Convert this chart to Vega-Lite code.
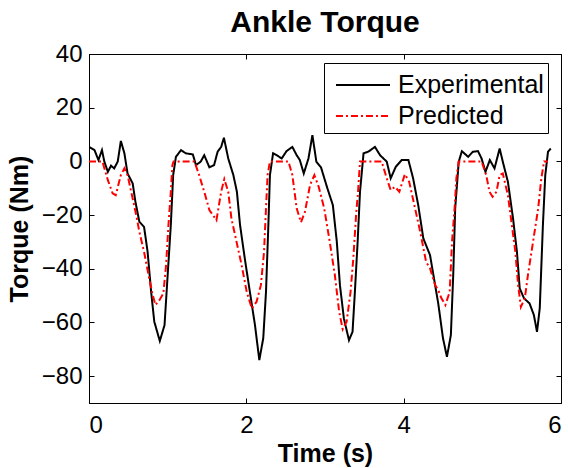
{
  "$schema": "https://vega.github.io/schema/vega-lite/v6.json",
  "width": 472,
  "height": 349,
  "autosize": {"type": "none"},
  "padding": {"left": 89, "top": 54, "right": 7, "bottom": 65},
  "background": "white",
  "title": {"text": "Ankle Torque", "fontSize": 30, "fontWeight": "bold", "font": "Liberation Sans", "color": "black", "baseline": "alphabetic", "offset": 18, "dy": 38},
  "config": {
    "font": "Liberation Sans",
    "view": {"stroke": "black", "strokeWidth": 1},
    "axis": {"grid": false, "domainColor": "black", "tickColor": "black", "labelColor": "black", "titleColor": "black", "labelFontSize": 24, "titleFontSize": 25, "titleFontWeight": "bold", "tickSize": -5, "labelPadding": 15}
  },
  "data": {"values": [
    {"s":"Experimental","t":0.00,"v":5.4},{"s":"Experimental","t":0.07,"v":4.2},{"s":"Experimental","t":0.12,"v":0.5},{"s":"Experimental","t":0.165,"v":4.2},{"s":"Experimental","t":0.195,"v":-0.1},{"s":"Experimental","t":0.24,"v":-3.9},{"s":"Experimental","t":0.28,"v":-1.6},{"s":"Experimental","t":0.32,"v":-2.6},{"s":"Experimental","t":0.365,"v":-0.1},{"s":"Experimental","t":0.405,"v":7.6},{"s":"Experimental","t":0.45,"v":3.0},{"s":"Experimental","t":0.49,"v":-4.5},{"s":"Experimental","t":0.555,"v":-8.2},{"s":"Experimental","t":0.59,"v":-15},{"s":"Experimental","t":0.64,"v":-22.5},{"s":"Experimental","t":0.70,"v":-24.4},{"s":"Experimental","t":0.745,"v":-33.7},{"s":"Experimental","t":0.79,"v":-48.6},{"s":"Experimental","t":0.83,"v":-59.7},{"s":"Experimental","t":0.90,"v":-66.9},{"s":"Experimental","t":0.96,"v":-61},{"s":"Experimental","t":1.00,"v":-42.3},{"s":"Experimental","t":1.04,"v":-23.7},{"s":"Experimental","t":1.07,"v":-5.1},{"s":"Experimental","t":1.105,"v":1.7},{"s":"Experimental","t":1.17,"v":4.2},{"s":"Experimental","t":1.23,"v":3.0},{"s":"Experimental","t":1.32,"v":2.6},{"s":"Experimental","t":1.36,"v":-1.4},{"s":"Experimental","t":1.42,"v":-0.1},{"s":"Experimental","t":1.465,"v":2.3},{"s":"Experimental","t":1.53,"v":-2.2},{"s":"Experimental","t":1.59,"v":-1.4},{"s":"Experimental","t":1.635,"v":3.6},{"s":"Experimental","t":1.68,"v":5.4},{"s":"Experimental","t":1.715,"v":8.8},{"s":"Experimental","t":1.77,"v":1.1},{"s":"Experimental","t":1.835,"v":-5.1},{"s":"Experimental","t":1.88,"v":-11.3},{"s":"Experimental","t":1.92,"v":-23.7},{"s":"Experimental","t":1.98,"v":-36.1},{"s":"Experimental","t":2.045,"v":-48.6},{"s":"Experimental","t":2.11,"v":-61},{"s":"Experimental","t":2.165,"v":-74},{"s":"Experimental","t":2.215,"v":-65.9},{"s":"Experimental","t":2.25,"v":-48.6},{"s":"Experimental","t":2.28,"v":-23.7},{"s":"Experimental","t":2.30,"v":-5.1},{"s":"Experimental","t":2.34,"v":3.0},{"s":"Experimental","t":2.385,"v":2.3},{"s":"Experimental","t":2.45,"v":1.1},{"s":"Experimental","t":2.51,"v":3.8},{"s":"Experimental","t":2.585,"v":5.4},{"s":"Experimental","t":2.64,"v":2.3},{"s":"Experimental","t":2.68,"v":0.5},{"s":"Experimental","t":2.73,"v":-4.5},{"s":"Experimental","t":2.79,"v":1.1},{"s":"Experimental","t":2.84,"v":9.8},{"s":"Experimental","t":2.89,"v":-0.1},{"s":"Experimental","t":2.95,"v":-2.3},{"s":"Experimental","t":3.03,"v":-10},{"s":"Experimental","t":3.10,"v":-16.3},{"s":"Experimental","t":3.15,"v":-29.9},{"s":"Experimental","t":3.19,"v":-46.1},{"s":"Experimental","t":3.24,"v":-58.5},{"s":"Experimental","t":3.305,"v":-66.6},{"s":"Experimental","t":3.35,"v":-63.5},{"s":"Experimental","t":3.38,"v":-48.6},{"s":"Experimental","t":3.415,"v":-29.9},{"s":"Experimental","t":3.445,"v":-11.3},{"s":"Experimental","t":3.49,"v":3.0},{"s":"Experimental","t":3.55,"v":3.6},{"s":"Experimental","t":3.635,"v":5.4},{"s":"Experimental","t":3.70,"v":2.3},{"s":"Experimental","t":3.785,"v":-0.1},{"s":"Experimental","t":3.835,"v":-6.3},{"s":"Experimental","t":3.90,"v":-2},{"s":"Experimental","t":3.975,"v":0.5},{"s":"Experimental","t":4.06,"v":0.5},{"s":"Experimental","t":4.12,"v":-6.3},{"s":"Experimental","t":4.185,"v":-16.3},{"s":"Experimental","t":4.25,"v":-28.7},{"s":"Experimental","t":4.335,"v":-34.9},{"s":"Experimental","t":4.40,"v":-46.1},{"s":"Experimental","t":4.44,"v":-53},{"s":"Experimental","t":4.50,"v":-65.9},{"s":"Experimental","t":4.55,"v":-72.8},{"s":"Experimental","t":4.60,"v":-64.7},{"s":"Experimental","t":4.63,"v":-42.3},{"s":"Experimental","t":4.655,"v":-17.5},{"s":"Experimental","t":4.70,"v":-0.1},{"s":"Experimental","t":4.74,"v":3.8},{"s":"Experimental","t":4.82,"v":1.7},{"s":"Experimental","t":4.88,"v":3.6},{"s":"Experimental","t":4.945,"v":3.8},{"s":"Experimental","t":4.99,"v":1.1},{"s":"Experimental","t":5.04,"v":-3.9},{"s":"Experimental","t":5.095,"v":0.5},{"s":"Experimental","t":5.155,"v":-2.6},{"s":"Experimental","t":5.22,"v":4.8},{"s":"Experimental","t":5.26,"v":-0.1},{"s":"Experimental","t":5.325,"v":-7.6},{"s":"Experimental","t":5.39,"v":-21.2},{"s":"Experimental","t":5.44,"v":-33.7},{"s":"Experimental","t":5.475,"v":-47.3},{"s":"Experimental","t":5.53,"v":-51},{"s":"Experimental","t":5.60,"v":-52.9},{"s":"Experimental","t":5.655,"v":-57.2},{"s":"Experimental","t":5.695,"v":-63.5},{"s":"Experimental","t":5.73,"v":-54.7},{"s":"Experimental","t":5.77,"v":-23.7},{"s":"Experimental","t":5.80,"v":-5.1},{"s":"Experimental","t":5.835,"v":3.6},{"s":"Experimental","t":5.87,"v":4.8},
    {"s":"Predicted","t":0.00,"v":0},{"s":"Predicted","t":0.17,"v":0},{"s":"Predicted","t":0.24,"v":-7},{"s":"Predicted","t":0.30,"v":-11.9},{"s":"Predicted","t":0.34,"v":-12.6},{"s":"Predicted","t":0.405,"v":-5.1},{"s":"Predicted","t":0.45,"v":-2.6},{"s":"Predicted","t":0.49,"v":-5.1},{"s":"Predicted","t":0.555,"v":-13.8},{"s":"Predicted","t":0.60,"v":-20},{"s":"Predicted","t":0.64,"v":-26.2},{"s":"Predicted","t":0.70,"v":-33.7},{"s":"Predicted","t":0.765,"v":-43.6},{"s":"Predicted","t":0.81,"v":-49.8},{"s":"Predicted","t":0.845,"v":-53.5},{"s":"Predicted","t":0.895,"v":-51.7},{"s":"Predicted","t":0.945,"v":-49.2},{"s":"Predicted","t":0.98,"v":-38.6},{"s":"Predicted","t":1.01,"v":-23.7},{"s":"Predicted","t":1.04,"v":-11.3},{"s":"Predicted","t":1.06,"v":-1.4},{"s":"Predicted","t":1.075,"v":0},{"s":"Predicted","t":1.34,"v":0},{"s":"Predicted","t":1.40,"v":-5.1},{"s":"Predicted","t":1.465,"v":-11.3},{"s":"Predicted","t":1.53,"v":-18.1},{"s":"Predicted","t":1.62,"v":-21.9},{"s":"Predicted","t":1.68,"v":-11.3},{"s":"Predicted","t":1.72,"v":-6.6},{"s":"Predicted","t":1.77,"v":-11.3},{"s":"Predicted","t":1.81,"v":-21.2},{"s":"Predicted","t":1.875,"v":-29.9},{"s":"Predicted","t":1.94,"v":-38.6},{"s":"Predicted","t":2.005,"v":-48.6},{"s":"Predicted","t":2.07,"v":-54.8},{"s":"Predicted","t":2.13,"v":-52.3},{"s":"Predicted","t":2.185,"v":-46.1},{"s":"Predicted","t":2.225,"v":-33.7},{"s":"Predicted","t":2.25,"v":-17.5},{"s":"Predicted","t":2.27,"v":-5.1},{"s":"Predicted","t":2.30,"v":0},{"s":"Predicted","t":2.535,"v":0},{"s":"Predicted","t":2.585,"v":-5.1},{"s":"Predicted","t":2.64,"v":-17.5},{"s":"Predicted","t":2.695,"v":-22.7},{"s":"Predicted","t":2.745,"v":-18.8},{"s":"Predicted","t":2.81,"v":-8.8},{"s":"Predicted","t":2.865,"v":-5.1},{"s":"Predicted","t":2.92,"v":-9.5},{"s":"Predicted","t":2.99,"v":-17.5},{"s":"Predicted","t":3.06,"v":-29.9},{"s":"Predicted","t":3.125,"v":-42.3},{"s":"Predicted","t":3.18,"v":-56},{"s":"Predicted","t":3.225,"v":-62.5},{"s":"Predicted","t":3.275,"v":-59.7},{"s":"Predicted","t":3.325,"v":-48.6},{"s":"Predicted","t":3.36,"v":-36.1},{"s":"Predicted","t":3.395,"v":-20},{"s":"Predicted","t":3.42,"v":-11.3},{"s":"Predicted","t":3.445,"v":0},{"s":"Predicted","t":3.72,"v":0},{"s":"Predicted","t":3.785,"v":-6.3},{"s":"Predicted","t":3.835,"v":-10.7},{"s":"Predicted","t":3.89,"v":-9.5},{"s":"Predicted","t":3.945,"v":-11.3},{"s":"Predicted","t":4.015,"v":-4.8},{"s":"Predicted","t":4.07,"v":-7.6},{"s":"Predicted","t":4.145,"v":-17.5},{"s":"Predicted","t":4.21,"v":-26.2},{"s":"Predicted","t":4.285,"v":-37.4},{"s":"Predicted","t":4.335,"v":-39.8},{"s":"Predicted","t":4.40,"v":-46.1},{"s":"Predicted","t":4.44,"v":-48},{"s":"Predicted","t":4.48,"v":-51},{"s":"Predicted","t":4.53,"v":-53.5},{"s":"Predicted","t":4.585,"v":-48.6},{"s":"Predicted","t":4.615,"v":-29.9},{"s":"Predicted","t":4.65,"v":-16.3},{"s":"Predicted","t":4.67,"v":-6.3},{"s":"Predicted","t":4.70,"v":0},{"s":"Predicted","t":4.99,"v":0},{"s":"Predicted","t":5.05,"v":-5.1},{"s":"Predicted","t":5.09,"v":-11.3},{"s":"Predicted","t":5.13,"v":-13.2},{"s":"Predicted","t":5.18,"v":-11.3},{"s":"Predicted","t":5.22,"v":-5.1},{"s":"Predicted","t":5.26,"v":-4.5},{"s":"Predicted","t":5.325,"v":-12.6},{"s":"Predicted","t":5.375,"v":-23.7},{"s":"Predicted","t":5.42,"v":-33.7},{"s":"Predicted","t":5.455,"v":-46.1},{"s":"Predicted","t":5.49,"v":-54.2},{"s":"Predicted","t":5.54,"v":-51},{"s":"Predicted","t":5.58,"v":-42.3},{"s":"Predicted","t":5.645,"v":-29.9},{"s":"Predicted","t":5.71,"v":-17.5},{"s":"Predicted","t":5.75,"v":-6.3},{"s":"Predicted","t":5.785,"v":0},{"s":"Predicted","t":5.835,"v":0}
  ]},
  "layer": [
    {
      "mark": {"type": "line", "strokeWidth": 2, "clip": true},
      "encoding": {
        "x": {"field": "t", "type": "quantitative", "scale": {"domain": [0, 6], "nice": false, "zero": false}, "axis": {"values": [0, 2, 4, 6], "title": "Time (s)", "format": "d", "titlePadding": 4}},
        "y": {"field": "v", "type": "quantitative", "scale": {"domain": [-90, 40], "nice": false, "zero": false}, "axis": {"values": [-80, -60, -40, -20, 0, 20, 40], "title": "Torque (Nm)", "format": "d", "labelPadding": 12, "titlePadding": 9}},
        "color": {"field": "s", "type": "nominal", "scale": {"domain": ["Experimental", "Predicted"], "range": ["black", "red"]},
          "legend": {"title": null, "orient": "none", "legendX": 235, "legendY": 9, "direction": "vertical", "fillColor": "white", "strokeColor": "black", "padding": 4, "symbolType": "M-0.59,0H2.59", "symbolSize": 1156, "symbolStrokeWidth": 2, "labelFontSize": 25, "labelColor": "black", "labelOffset": 34, "rowPadding": 0, "labelLimit": 300}},
        "strokeDash": {"field": "s", "type": "nominal", "scale": {"domain": ["Experimental", "Predicted"], "range": [[1, 0], [7, 3, 2, 3]]}, "legend": null},
        "order": {"field": "t", "type": "quantitative"}
      }
    },
    {
      "mark": {"type": "line", "opacity": 0},
      "encoding": {
        "x": {"field": "t", "type": "quantitative", "axis": {"orient": "top", "values": [0, 2, 4, 6], "labels": false, "title": null}},
        "y": {"field": "v", "type": "quantitative", "axis": {"orient": "right", "values": [-80, -60, -40, -20, 0, 20, 40], "labels": false, "title": null}}
      }
    }
  ],
  "resolve": {"axis": {"x": "independent", "y": "independent"}}
}
